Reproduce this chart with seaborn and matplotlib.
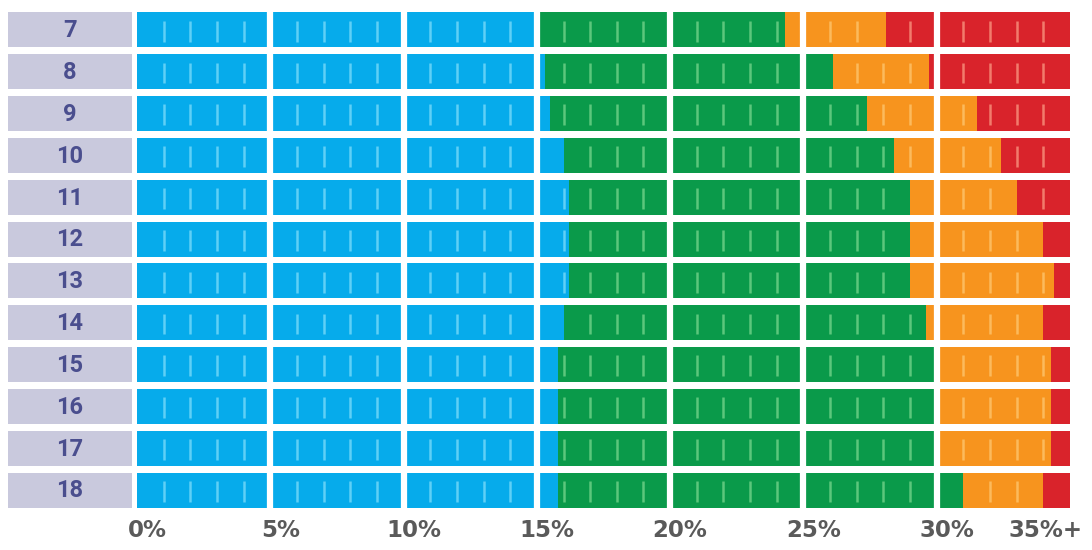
import numpy as np
import pandas as pd
import matplotlib
matplotlib.use("Agg")
import matplotlib.pyplot as plt
import matplotlib.transforms as mtransforms
import seaborn as sns

# ---------------- data ----------------
ages = ["7", "8", "9", "10", "11", "12", "13", "14", "15", "16", "17", "18"]
underfat_max = [15.0, 15.3, 15.5, 16.0, 16.2, 16.2, 16.2, 16.0, 15.8, 15.8, 15.8, 15.8]
healthy_max = [24.3, 26.1, 27.4, 28.4, 29.0, 29.0, 29.0, 29.6, 30.0, 30.0, 30.0, 31.0]
overfat_max = [28.1, 29.7, 31.5, 32.4, 33.0, 34.0, 34.4, 34.0, 34.3, 34.3, 34.3, 34.0]
scale_max = [35.0] * len(ages)
tick_values = [0, 5, 10, 15, 20, 25, 30, 35]
tick_labels = ["0%", "5%", "10%", "15%", "20%", "25%", "30%", "35%+"]

# ---------------- style ----------------
BLUE, GREEN, ORANGE, RED = "#06abeb", "#0a9a4a", "#f7941e", "#d9232b"
LBLUE, LGREEN, LORANGE, LRED = "#5fd0f6", "#5cc77c", "#fcba5c", "#f27b6c"
LAVENDER = "#c9c9dd"
LABEL_COL = "#4a4e8e"
TICK_COL = "#5a5a5a"

sns.set_theme(style="white")
plt.rcParams["font.family"] = ["DejaVu Sans"]

df = pd.DataFrame({
    "age": ages,
    "underfat": underfat_max,
    "healthy": healthy_max,
    "overfat": overfat_max,
    "cap": scale_max,
})

fig = plt.figure(figsize=(10.92, 5.5), dpi=100)
fig.patch.set_facecolor("white")
ax = fig.add_axes([8 / 1092, 1 - 511 / 550, 1062 / 1092, 502 / 550])
ax.set_facecolor("white")

bar_w = 0.84
for col, c in [("cap", RED), ("overfat", ORANGE), ("healthy", GREEN), ("underfat", BLUE)]:
    sns.barplot(data=df, x=col, y="age", orient="h", color=c, width=bar_w,
                saturation=1, linewidth=0, errorbar=None, ax=ax)

# row label boxes
ypos = np.arange(len(ages))
ax.barh(ypos, 4.65, left=-4.84, height=bar_w, color=LAVENDER, linewidth=0)
for i, a in enumerate(ages):
    ax.text(-4.84 + 4.65 / 2, i + 0.02, a, ha="center", va="center",
            fontsize=17, fontweight="bold", color=LABEL_COL, family="Roboto")

# white separators every 5%
for v in range(5, 35, 5):
    ax.axvline(v, color="white", lw=4.5, zorder=5)

# thin 1% dashes (tinted by the segment they sit in)
for i in range(len(ages)):
    bounds = [underfat_max[i], healthy_max[i], overfat_max[i]]
    for k in range(1, 35):
        if k % 5 == 0:
            continue
        if any(abs(k - b) < 0.15 for b in bounds):
            continue
        if k < underfat_max[i]:
            c = LBLUE
        elif k < healthy_max[i]:
            c = LGREEN
        elif k < overfat_max[i]:
            c = LORANGE
        else:
            c = LRED
        ax.plot([k, k], [i - 0.22, i + 0.28], color=c, lw=1.8,
                solid_capstyle="butt", zorder=4)

ax.set_xlim(-4.84, 35)
ax.set_ylim(len(ages) - 0.5, -0.5)
ax.set_yticks([])
ax.set_ylabel("")
ax.set_xlabel("")
for s in ax.spines.values():
    s.set_visible(False)
ax.grid(False)

ax.set_xticks(tick_values)
ax.set_xticklabels(tick_labels, fontsize=16.5, fontweight="bold", color=TICK_COL)
ax.tick_params(axis="x", length=0, pad=6)
labs = ax.get_xticklabels()
for j, lab in enumerate(labs):
    if j == len(labs) - 1:
        lab.set_ha("right")
        off = 13
    else:
        off = 10
    lab.set_transform(lab.get_transform() +
                      mtransforms.ScaledTranslation(off / 100, 0, fig.dpi_scale_trans))

fig.savefig("out.png", dpi=100, facecolor="white")
